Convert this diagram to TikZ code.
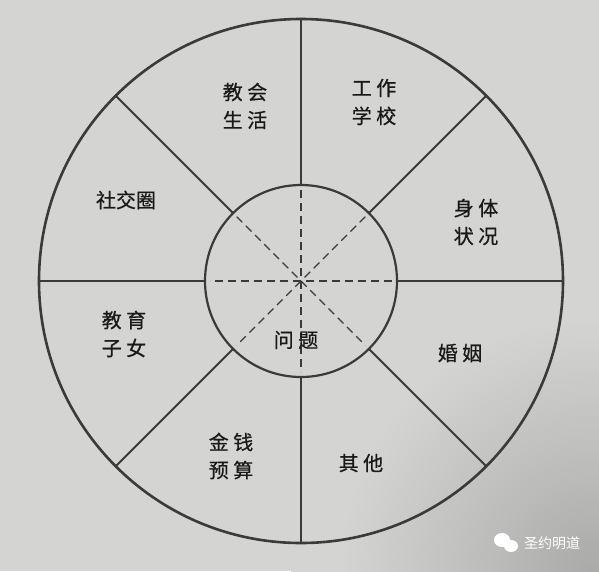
\documentclass[tikz,border=0pt]{standalone}
\usepackage{fontspec}
\newfontfamily\cjk[FakeBold=0.6]{Noto Sans CJK SC}
\newfontfamily\cjkplain{Noto Sans CJK SC}
\usepackage{tikz}
\usetikzlibrary{positioning}
\definecolor{papercolor}{RGB}{212,212,210}
\definecolor{shadecolor}{RGB}{170,170,168}
\definecolor{inkcolor}{RGB}{58,58,58}
\pgfdeclareradialshading{cornershade}{\pgfpoint{0bp}{0bp}}{%
    color(0bp)=(shadecolor); color(8bp)=(shadecolor!60!papercolor);
    color(21bp)=(papercolor); color(100bp)=(papercolor)}

\begin{document}
\begin{tikzpicture}[
    x=1pt, y=1pt,
    ring/.style={draw=inkcolor, circle, inner sep=0pt, outer sep=0pt},
    spoke/.style={draw=inkcolor, line width=1.8pt},
    guide/.style={draw=inkcolor, line width=1.1pt, dash pattern=on 8pt off 5pt, shorten <=5pt, shorten >=5pt},
    area/.style={font=\cjk\fontsize{20}{28}\selectfont, align=center, text=black!90, inner sep=0pt},
    wmtext/.style={font=\cjkplain\fontsize{14}{16}\selectfont, text=white, inner sep=0pt}
]
    % Paper
    \fill[papercolor] (-301,-290) rectangle (298,281);
    \begin{scope}
        \clip (-301,-290) rectangle (298,281);
        \shade[shading=cornershade] (-10,-590) rectangle (590,10);
    \end{scope}

    % Circles
    \node[ring, line width=2.6pt, minimum size=524pt] (outer) at (0,0) {};
    \node[ring, line width=2.2pt, minimum size=192pt] (inner) at (0,0) {};

    % Spokes and guides
    \foreach \a in {0,45,...,315}
        \draw[spoke] (inner.\a) -- (outer.\a);
    \foreach \a/\b in {0/180, 45/225, 90/270, 135/315}
        \draw[guide] (inner.\a) -- (inner.\b);

    % Areas
    \node[area] (church) at (-56,175) {教 会\\生 活};
    \node[area] (work) at (73,179) {工 作\\学 校};
    \node[area] (social) at (-175,81) {社交圈};
    \node[area] (health) at (175,59) {身 体\\状 况};
    \node[area] (children) at (-177,-53) {教 育\\子 女};
    \node[area] (problem) at (-5,-59) {问 题};
    \node[area] (marriage) at (159,-72) {婚 姻};
    \node[area] (money) at (-70,-175) {金 钱\\预 算};
    \node[area] (other) at (60,-182) {其 他};

    % Watermark
    \fill[white] (201,-259) ellipse (8 and 7);
    \fill[white] (210,-265) ellipse (7 and 6);
    \node[wmtext] (wm) at (251,-262) {圣约明道};
\end{tikzpicture}
\end{document}
